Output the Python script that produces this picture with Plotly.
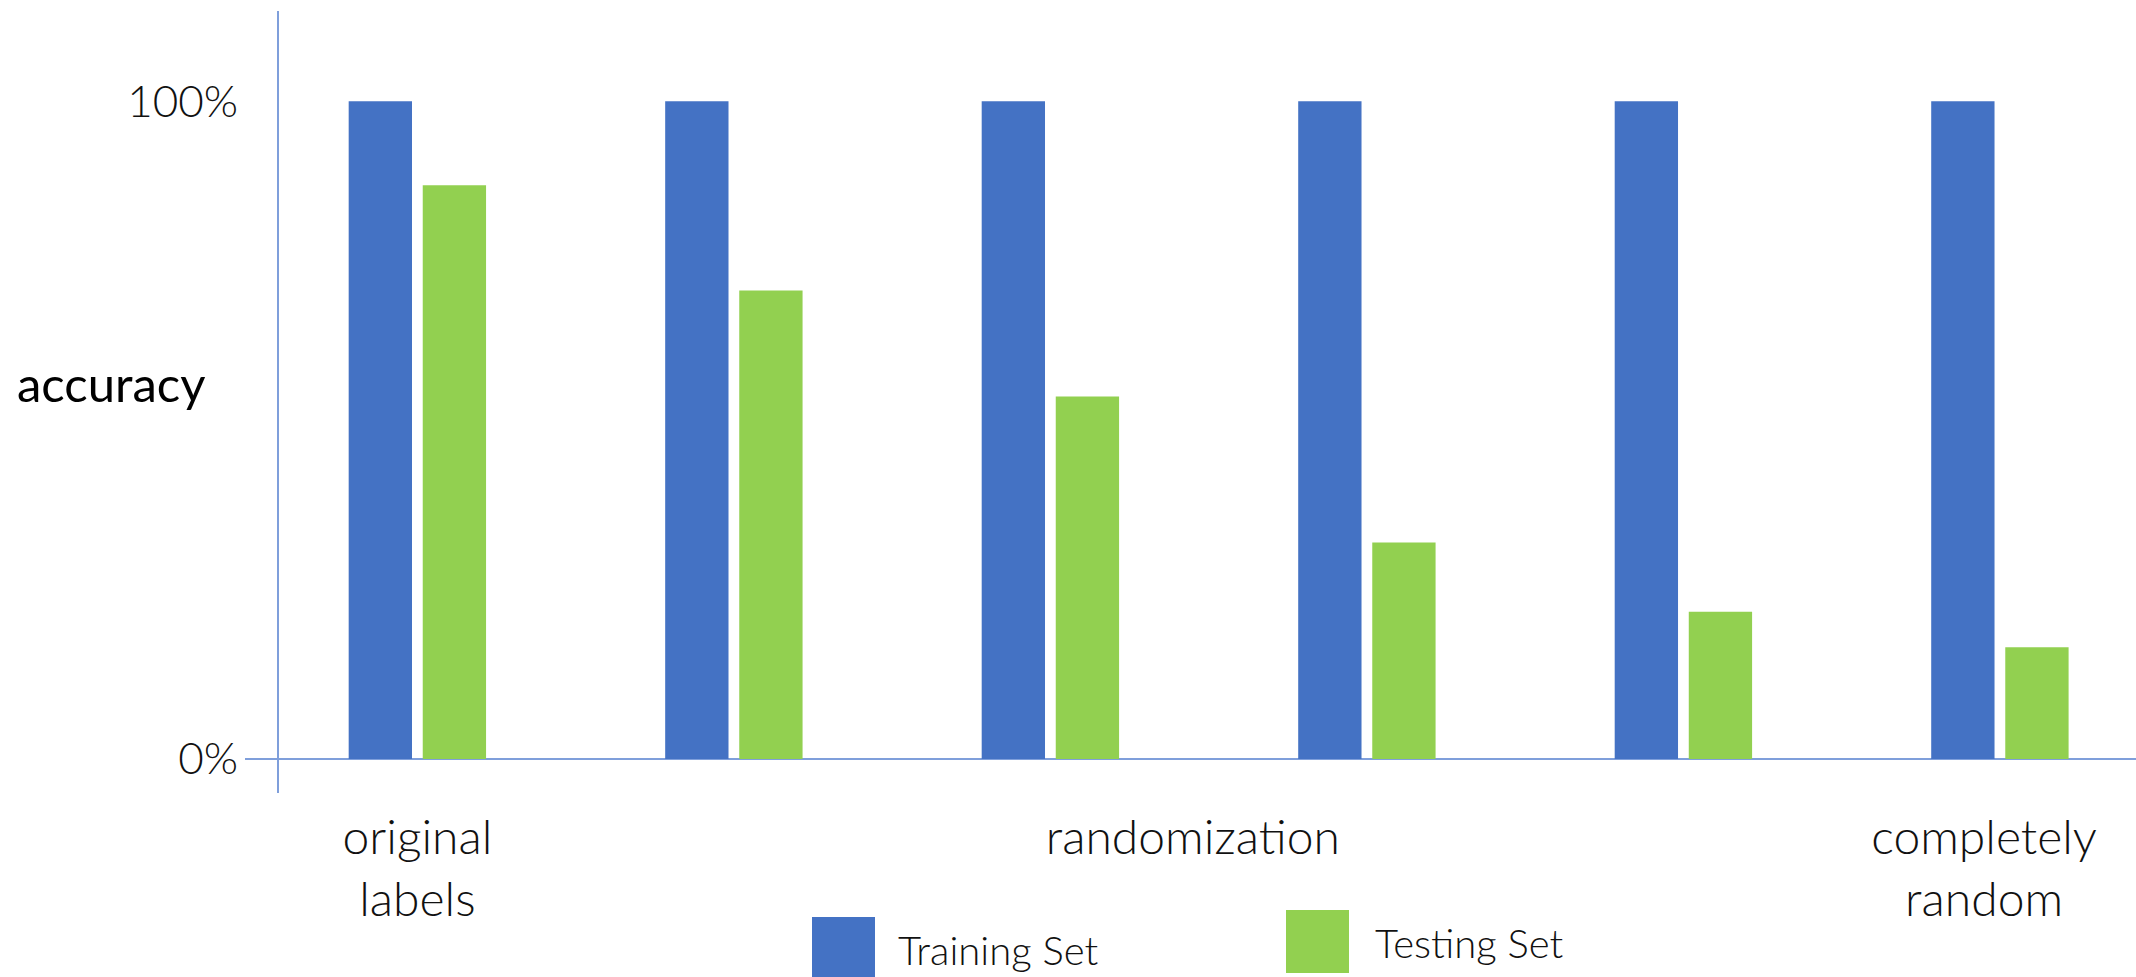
import plotly.graph_objects as go

# Accuracy of a network trained on increasingly randomized labels
groups = [0, 1, 2, 3, 4, 5]
training_acc = [1.00, 1.00, 1.00, 1.00, 1.00, 1.00]
testing_acc = [0.872, 0.712, 0.551, 0.329, 0.224, 0.170]

series_names = ["Training Set", "Testing Set"]
series_colors = ["#4472C4", "#92D050"]

x_tick_positions = [0, 2.45, 4.95]
x_tick_labels = ["original<br>labels", "randomization", "completely<br>random"]
y_tick_values = [0, 1]
y_tick_labels = ["0%", "100%"]

W, H = 2136, 977
M_L, M_R, M_T, M_B = 245, 0, 11, 184
PLOT_W = W - M_L - M_R
PLOT_H = H - M_T - M_B

FONT = "Lato"
AXIS_BLUE = "#7F9FDB"


def px_x(px):
    return (px - M_L) / PLOT_W


def px_y(py):
    return (H - M_B - py) / PLOT_H


fig = go.Figure()
for name, color, vals in zip(series_names, series_colors, [training_acc, testing_acc]):
    fig.add_trace(go.Bar(x=groups, y=vals, name=name, marker=dict(color=color, line=dict(width=0)),
                         showlegend=False))

shapes = [
    # vertical axis line
    dict(type="line", xref="paper", yref="paper", x0=px_x(278), x1=px_x(278), y0=0, y1=1,
         line=dict(color=AXIS_BLUE, width=2)),
]

# legend swatches and labels
legend_items = [
    (812, 917, 896, 950),
    (1286, 910, 1373, 943),
]
annotations = []
for (sx, sy, tx, ty), name, color in zip(legend_items, series_names, series_colors):
    shapes.append(dict(type="rect", xref="paper", yref="paper",
                       x0=px_x(sx), x1=px_x(sx + 63), y0=px_y(sy), y1=px_y(sy + 63),
                       fillcolor=color, line=dict(width=0)))
    annotations.append(dict(text=name, xref="paper", yref="paper", x=px_x(tx), y=px_y(ty),
                            xanchor="left", yanchor="middle", showarrow=False,
                            font=dict(family=FONT, size=40, color="#111111", weight=300)))

annotations.append(dict(text="accuracy", xref="paper", yref="paper", x=px_x(15), y=px_y(383),
                        xanchor="left", yanchor="middle", showarrow=False,
                        font=dict(family=FONT, size=49, color="#000000", weight=400)))

fig.update_layout(
    width=W, height=H,
    margin=dict(l=M_L, r=M_R, t=M_T, b=M_B, pad=0),
    paper_bgcolor="white", plot_bgcolor="white",
    barmode="group", bargap=0.532, bargroupgap=0.145,
    shapes=shapes, annotations=annotations,
    showlegend=False,
    xaxis=dict(range=[-0.5446, 5.43], tickmode="array", tickvals=x_tick_positions,
               ticktext=x_tick_labels, showgrid=False, zeroline=False, showline=False,
               ticks="", ticklabelstandoff=12,
               tickfont=dict(family=FONT, size=48, color="#111111", weight=300)),
    yaxis=dict(range=[-0.0517, 1.137], tickmode="array", tickvals=y_tick_values,
               ticktext=y_tick_labels, showgrid=False, showline=False,
               zeroline=True, zerolinecolor=AXIS_BLUE, zerolinewidth=2,
               ticks="", ticklabelstandoff=6,
               tickfont=dict(family=FONT, size=44, color="#111111", weight=300)),
)

fig.write_html("out.html")
